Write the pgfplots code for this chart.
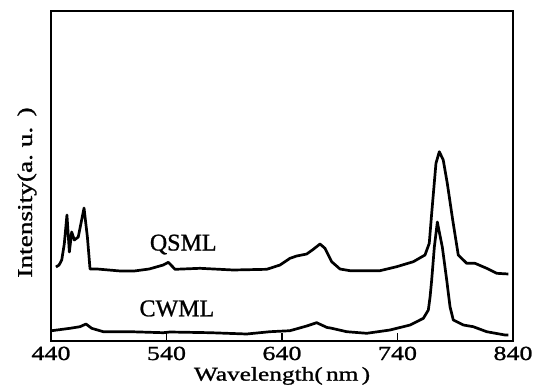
\documentclass[border=0pt]{standalone}
\usepackage{pgfplots}
\pgfplotsset{compat=1.18}
\usepackage{fontspec}
\setmainfont{Liberation Serif}
\newfontfamily\widefont[FakeStretch=1.3,FakeBold=1.2]{Liberation Serif}
\newfontfamily\labfont[FakeBold=1.0]{Liberation Serif}
\begin{document}
\begin{tikzpicture}
\path[use as bounding box] (-51pt,-48pt) rectangle (484pt,341pt);
\begin{axis}[
  at={(0pt,0pt)}, anchor=south west,
  scale only axis, width=462pt, height=330pt,
  xmin=440, xmax=840, ymin=0, ymax=330,
  axis line style={line width=2pt},
  xtick={440,540,640,740,840},
  xtick pos=bottom, tick align=inside,
  major tick length=8pt,
  tick style={line width=1.6pt, black},
  ytick=\empty,
  xticklabel style={font=\widefont\fontsize{20}{22}\selectfont, anchor=base, yshift=-19pt},
  /pgf/number format/assume math mode=true,
  xlabel={Wavelength(\,nm\,)},
  xlabel style={font=\widefont\fontsize{19.5}{22}\selectfont, at={(axis description cs:0.5,0)}, anchor=base, yshift=-39.6pt},
  ylabel={Intensity(a.\ u.\ \,)},
  ylabel style={font=\widefont\fontsize{21}{24}\selectfont, at={(axis description cs:-0.052,0.45)}, anchor=center},
  clip=false,
]
\addplot[black, line width=2.7pt, line join=round] coordinates {
(444.3,74) (447,76) (449.3,81) (451.5,97) (453.8,126) (455.9,89) (457.9,109)
(460.2,101) (463.6,104) (466,118) (468.6,133) (471.5,104) (473.8,72)
(480,72) (490,71) (500,70) (512,70) (525,72) (537.2,76) (541.6,78.7)
(547.4,71.7) (569,72.7) (597.8,71) (626.8,71.7) (638.3,76) (646.9,82.7)
(652.7,85) (661.4,87) (667.1,91.7) (672.9,97) (677.2,92.7) (683,79.3)
(690.2,72) (698.9,70.3) (724.8,70.3) (739.3,74.3) (753.7,79.3) (763.8,86)
(767.5,97.7) (769.6,127.7) (773.3,177.7) (776.2,189.3) (779.6,181)
(783.1,157.7) (787.8,121) (792.6,86) (799.9,77.7) (807.1,77.7)
(817.2,72.7) (825.9,67.7) (836,67)
};
\addplot[black, line width=2.7pt, line join=round] coordinates {
(440.6,10.3) (456.4,12.7) (465.1,14.3) (470.3,17) (475.2,12.7) (485.3,9.3)
(508.4,9.3) (537.2,8.3) (543,9) (577.7,8.3) (609.4,7) (629.6,9.3)
(646.9,10.3) (661.4,15) (670,18.3) (679,13.5) (682,13) (696,9.3)
(713.4,7.7) (733.5,11) (750.9,16) (762.4,22.7) (766.7,31) (768.2,44)
(769.6,61) (771.9,94) (774.5,119) (776,110) (778.8,94) (782.6,61)
(785.5,34) (788.3,21) (797,16) (805.6,14.3) (817.2,9.3) (833.1,6) (836,6)
};
\node[font=\labfont\fontsize{24}{26}\selectfont] at (axis cs:554.5,96.5) {QSML};
\node[font=\labfont\fontsize{24}{26}\selectfont] at (axis cs:549,32.5) {CWML};
\end{axis}
\end{tikzpicture}
\end{document}
